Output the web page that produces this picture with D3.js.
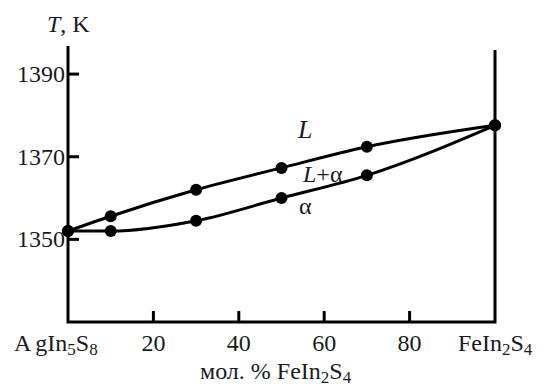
<!DOCTYPE html>
<html>
<head>
<meta charset="utf-8">
<script src="https://cdn.jsdelivr.net/npm/d3@7"></script>
<style>
  body { margin: 0; background: #fff; }
</style>
</head>
<body>
<div id="chart"></div>
<script>
// composition, mol. % FeIn2S4
var molPct = [0, 10, 30, 50, 70, 100];
// liquidus (L) and solidus (alpha), K
var liquidus = [1352, 1355.6, 1362, 1367.3, 1372.4, 1377.6];
var solidus = [1352, 1352, 1354.5, 1360, 1365.5, 1377.6];
var yTicks = [1350, 1370, 1390];
var xTicks = [20, 40, 60, 80];

var width = 544, height = 387;
var svg = d3.select("#chart").append("svg")
  .attr("width", width)
  .attr("height", height)
  .attr("font-family", "'Liberation Serif', 'DejaVu Serif', serif")
  .attr("fill", "#1a1a22");

var x = d3.scaleLinear().domain([0, 100]).range([68, 495]);
var y = d3.scaleLinear().domain([1330, 1396.8]).range([322, 46]);

// frame: left, bottom, right
var axisG = svg.append("g")
  .attr("stroke", "#000")
  .attr("stroke-width", 3)
  .attr("fill", "none");
axisG.append("path")
  .attr("d", "M" + x(0) + "," + y(1396.8) + "V" + y(1330) + "H" + x(100) + "V" + (y(1396.8) + 4));

// y ticks pointing inward
axisG.selectAll("line.yt")
  .data(yTicks)
  .enter()
  .append("line")
  .attr("x1", x(0))
  .attr("x2", x(0) + 11)
  .attr("y1", function (d) { return y(d) })
  .attr("y2", function (d) { return y(d) });

// x ticks pointing up
axisG.selectAll("line.xt")
  .data(xTicks)
  .enter()
  .append("line")
  .attr("x1", function (d) { return x(d) })
  .attr("x2", function (d) { return x(d) })
  .attr("y1", y(1330))
  .attr("y2", y(1330) - 11);

svg.selectAll("text.yl")
  .data(yTicks)
  .enter()
  .append("text")
  .attr("x", x(0) - 3)
  .attr("y", function (d) { return y(d) + 8 })
  .attr("text-anchor", "end")
  .style("font-size", "24px")
  .text(function (d) { return d });

svg.selectAll("text.xl")
  .data(xTicks)
  .enter()
  .append("text")
  .attr("x", function (d) { return x(d) })
  .attr("y", 351)
  .attr("text-anchor", "middle")
  .style("font-size", "24px")
  .text(function (d) { return d });

// compound names with subscripts
function formula(sel, parts) {
  parts.forEach(function (p) {
    var t = sel.append("tspan").text(p[0]);
    if (p[1]) t.style("font-size", "17px").attr("dy", 4);
    else t.attr("dy", p[2] || 0);
    if (p[3]) t.attr("dx", p[3]);
  });
}

var left = svg.append("text").attr("x", 14).attr("y", 351).style("font-size", "24px");
formula(left, [["A", false], ["gIn", false, 0, 4], ["5", true], ["S", false, -4], ["8", true]]);

var right = svg.append("text").attr("x", 458).attr("y", 351).style("font-size", "24px");
formula(right, [["FeIn", false], ["2", true], ["S", false, -4], ["4", true]]);

var xTitle = svg.append("text").attr("x", 200).attr("y", 379).style("font-size", "24px");
formula(xTitle, [["мол. % FeIn", false], ["2", true], ["S", false, -4], ["4", true]]);

var yTitle = svg.append("text").attr("x", 47).attr("y", 32).style("font-size", "24px");
yTitle.append("tspan").style("font-style", "italic").text("T");
yTitle.append("tspan").text(", K");

// curves
var line = d3.line()
  .x(function (d) { return x(d[0]) })
  .y(function (d) { return y(d[1]) })
  .curve(d3.curveMonotoneX);

[liquidus, solidus].forEach(function (series) {
  var pts = molPct.map(function (m, i) { return [m, series[i]] });
  svg.append("path")
    .datum(pts)
    .attr("d", line)
    .attr("fill", "none")
    .attr("stroke", "#000")
    .attr("stroke-width", 3);
  svg.selectAll(null)
    .data(pts)
    .enter()
    .append("circle")
    .attr("cx", function (d) { return x(d[0]) })
    .attr("cy", function (d) { return y(d[1]) })
    .attr("r", 6)
    .attr("fill", "#000");
});

// phase field labels
svg.append("text").attr("x", 298).attr("y", 138)
  .style("font-size", "26px").style("font-style", "italic").text("L");
var la = svg.append("text").attr("x", 303).attr("y", 182).style("font-size", "24px");
la.append("tspan").style("font-style", "italic").text("L");
la.append("tspan").text("+α");
svg.append("text").attr("x", 299).attr("y", 214).style("font-size", "24px").text("α");
</script>
</body>
</html>
